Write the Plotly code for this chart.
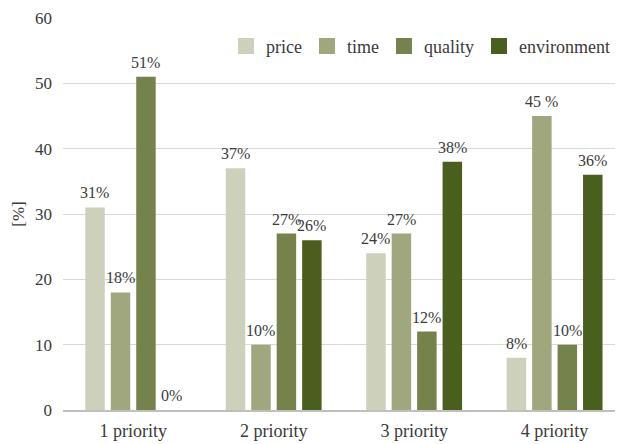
import plotly.graph_objects as go

# Survey results: share of respondents ranking each criterion at a given priority
categories = ["1 priority", "2 priority", "3 priority", "4 priority"]
price = [31, 37, 24, 8]
time_ = [18, 10, 27, 45]
quality = [51, 27, 12, 10]
environment = [0, 26, 38, 36]

price_labels = ["31%", "37%", "24%", "8%"]
time_labels = ["18%", "10%", "27%", "45 %"]
quality_labels = ["51%", "27%", "12%", "10%"]
environment_labels = ["0%", "26%", "38%", "36%"]

series = [
    ("price", price, price_labels, "#CDD0BB"),
    ("time", time_, time_labels, "#A0A77F"),
    ("quality", quality, quality_labels, "#76824C"),
    ("environment", environment, environment_labels, "#4A5E1E"),
]

FONT = "Liberation Serif"
TEXT = "#3A3A3A"

fig = go.Figure()
annotations = []
slot_px = 25.5
for i, (name, vals, labels, color) in enumerate(series):
    fig.add_trace(go.Bar(
        name=name, x=categories, y=vals, marker_color=color,
        marker_line_width=0, showlegend=False,
    ))
    for cat, v, lab in zip(categories, vals, labels):
        annotations.append(dict(
            x=cat, y=v, text=lab, showarrow=False,
            xanchor="center", yanchor="bottom",
            xshift=(i - 1.5) * slot_px, yshift=4,
            font=dict(family=FONT, size=16, color=TEXT),
        ))

# Legend entries with larger square swatches
for name, _, _, color in series:
    fig.add_trace(go.Scatter(
        name=name, x=[None], y=[None], mode="markers",
        marker=dict(symbol="square", size=16, color=color),
        showlegend=True, hoverinfo="skip",
    ))

fig.update_layout(
    width=619, height=444,
    margin=dict(l=63, r=4, t=18, b=34),
    paper_bgcolor="white", plot_bgcolor="white",
    barmode="group", bargap=0.275, bargroupgap=0.235,
    font=dict(family=FONT, size=16, color=TEXT),
    annotations=annotations,
    showlegend=True,
    legend=dict(
        orientation="h", x=1.0, xanchor="right", y=0.975, yanchor="top",
        font=dict(family=FONT, size=18, color=TEXT),
        bgcolor="rgba(0,0,0,0)", itemwidth=30, traceorder="normal",
    ),
    xaxis=dict(
        type="category", range=[-0.5, 3.43], automargin=False,
        showgrid=False, showline=True, linecolor="#BFBFBF", linewidth=1.5,
        ticks="", ticklabelstandoff=4,
        tickfont=dict(family=FONT, size=18, color=TEXT),
    ),
    yaxis=dict(
        range=[0, 60], dtick=10, showgrid=True, gridcolor="#D9D9D9", gridwidth=1,
        zeroline=False, showline=False, ticks="", ticklabelstandoff=10,
        automargin=False,
        tickfont=dict(family=FONT, size=17, color=TEXT),
        title=dict(text="[%]", font=dict(family=FONT, size=17, color=TEXT), standoff=6),
    ),
)

fig.write_html("out.html")
